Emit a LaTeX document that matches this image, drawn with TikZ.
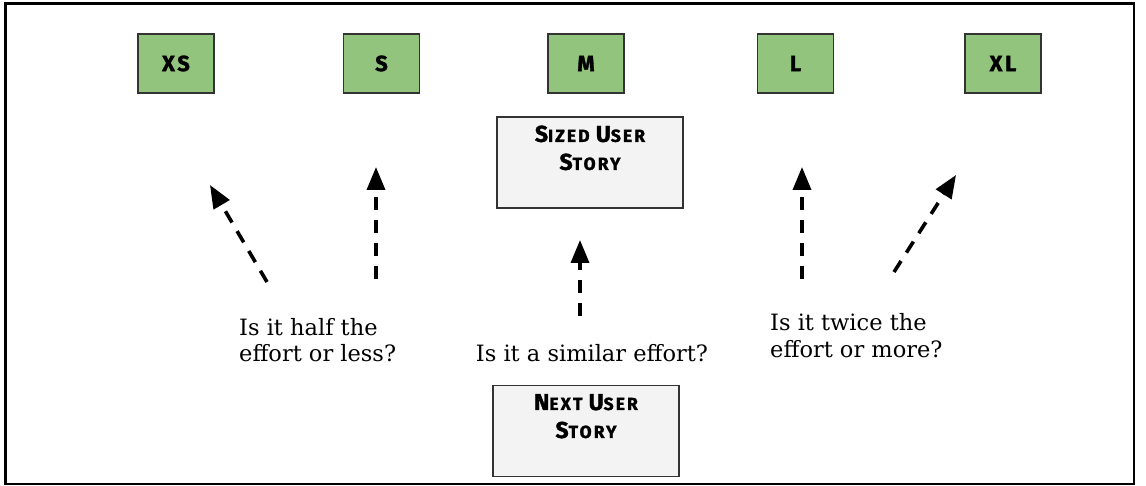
\documentclass[tikz,border=0pt]{standalone}
\usepackage{fontspec}
\setmainfont{DejaVu Serif}
\newfontfamily\markerfont[FakeBold=1.5, LetterSpace=12]{Fira Sans}
\usetikzlibrary{arrows.meta}
\definecolor{sizegreen}{HTML}{93C47D}
\definecolor{cardgray}{HTML}{F3F3F3}
\definecolor{edgegray}{HTML}{333333}
% capital letter in the hand-lettered captions
\newcommand\capletter[1]{{\fontsize{23}{23}\selectfont #1}}
\tikzset{
  sizebox/.style={draw=edgegray, line width=1.3pt, fill=sizegreen,
    minimum width=76pt, minimum height=59pt, inner sep=0pt,
    font=\markerfont\bfseries\fontsize{22}{22}\selectfont},
  cardbox/.style={draw=edgegray, line width=1.3pt, fill=cardgray,
    minimum width=186pt, minimum height=91pt, inner sep=0pt},
  cardtext/.style={anchor=north, inner sep=0pt, align=center,
    font=\markerfont\bfseries\fontsize{17.5}{28}\selectfont},
  question/.style={inner sep=0pt, align=left,
    font=\fontsize{22.5}{26.5}\selectfont},
  guess/.style={line width=3.6pt, dash pattern=on 13pt off 10pt,
    -{Triangle[width=18pt,length=23pt]}},
}
\begin{document}
\begin{tikzpicture}[x=1pt, y=-1pt]
\useasboundingbox (0,0) rectangle (1146,486);
\draw[line width=2.6pt] (5.5,3.5) rectangle (1134,484);

% size buckets
\node[sizebox] (xs) at (176,63.5) {XS};
\node[sizebox] (s)  at (381.5,63.5) {S};
\node[sizebox] (m)  at (586,63.5) {M};
\node[sizebox] (l)  at (795.5,63.5) {L};
\node[sizebox] (xl) at (1003,63.5) {XL};

% stories
\node[cardbox] (sized) at (590,162.5) {};
\node[cardtext] (sizedlbl) at ([yshift=-9pt]sized.north)
  {\capletter{S}IZED \capletter{U}SER\\\capletter{S}TORY};
\node[cardbox] (next) at (586,431) {};
\node[cardtext] (nextlbl) at ([yshift=-9pt]next.north)
  {\capletter{N}EXT \capletter{U}SER\\\capletter{S}TORY};

% questions
\node[question, anchor=base west] (half) at (239,362)
  {Is it half the\\effort or less?};
\node[question, anchor=base] (similar) at (592,362)
  {Is it a similar effort?};
\node[question, anchor=base west] (twice) at (770,357)
  {Is it twice the\\effort or more?};

% comparison arrows
\coordinate (a1s) at (267,282); \coordinate (a1e) at (210,185);
\coordinate (a2s) at (376,279); \coordinate (a2e) at (376,167);
\coordinate (a3s) at (580,316); \coordinate (a3e) at (580,240);
\coordinate (a4s) at (802,279); \coordinate (a4e) at (802,167);
\coordinate (a5s) at (894,272); \coordinate (a5e) at (956,175);
\draw[guess] (a1s) -- (a1e);
\draw[guess] (a2s) -- (a2e);
\draw[guess] (a3s) -- (a3e);
\draw[guess] (a4s) -- (a4e);
\draw[guess] (a5s) -- (a5e);
\end{tikzpicture}
\end{document}
